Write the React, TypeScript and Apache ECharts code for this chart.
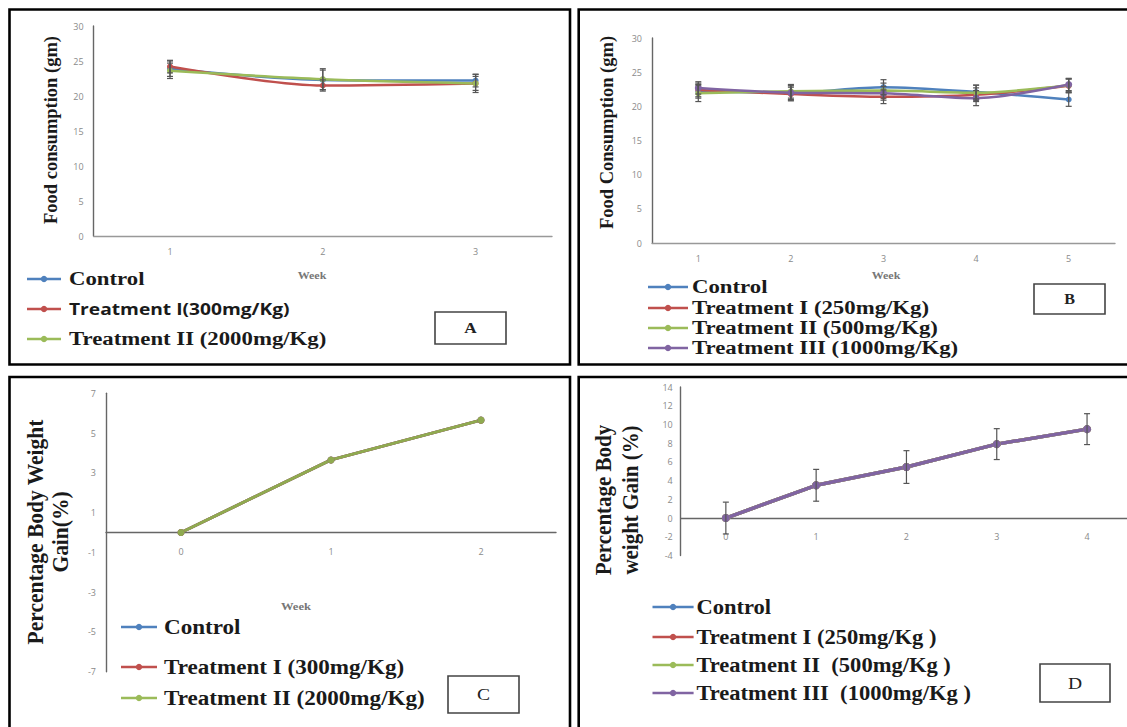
import React, { useEffect, useRef } from "react";
import * as echarts from "echarts";

// ---------- Data ----------
// Panel A: Food consumption (gm), weeks 1-3
const weeksA = ["1", "2", "3"];
const controlA = [23.9, 22.3, 22.2];
const t1A = [24.2, 21.5, 21.8];
const t2A = [23.6, 22.4, 21.8];
const errControlA = [1.1, 1.4, 0.9];
const errT1A = [0.9, 0.8, 1.0];
const errT2A = [1.1, 1.5, 1.3];

// Panel B: Food Consumption (gm), weeks 1-5
const weeksB = ["1", "2", "3", "4", "5"];
const controlB = [22.2, 22.0, 22.8, 22.1, 21.0];
const t1B = [22.4, 21.8, 21.4, 21.7, 23.0];
const t2B = [21.9, 22.2, 22.3, 22.0, 23.1];
const t3B = [22.7, 22.0, 21.9, 21.2, 23.2];
const errControlB = [1.0, 1.1, 1.1, 1.0, 1.0];
const errT1B = [1.0, 1.0, 1.0, 1.0, 1.0];
const errT2B = [1.2, 1.0, 1.1, 1.1, 0.9];
const errT3B = [0.9, 1.0, 1.0, 1.1, 0.9];

// Panel C: Percentage body weight gain (%), weeks 0-2
const weeksC = ["0", "1", "2"];
const controlC = [0, 3.65, 5.65];
const t1C = [0, 3.65, 5.65];
const t2C = [0, 3.65, 5.65];

// Panel D: Percentage body weight gain (%), weeks 0-4
const weeksD = ["0", "1", "2", "3", "4"];
const controlD = [0, 3.5, 5.45, 7.9, 9.5];
const t1D = [0, 3.5, 5.45, 7.9, 9.5];
const t2D = [0, 3.5, 5.45, 7.9, 9.5];
const t3D = [0, 3.5, 5.45, 7.9, 9.5];
const errD = [1.7, 1.7, 1.75, 1.65, 1.65];

// Legend labels
const legendA = ["Control", "Treatment I(300mg/Kg)", "Treatment II (2000mg/Kg)"];
const legendB = ["Control", "Treatment I (250mg/Kg)", "Treatment II (500mg/Kg)", "Treatment III (1000mg/Kg)"];
const legendC = ["Control", "Treatment I (300mg/Kg)", "Treatment II (2000mg/Kg)"];
const legendD = ["Control", "Treatment I (250mg/Kg )", "Treatment II  (500mg/Kg )", "Treatment III  (1000mg/Kg )"];

// ---------- Styling ----------
const C_BLUE = "#4F81BD";
const C_RED = "#C0504D";
const C_GREEN = "#9BBB59";
const C_PURPLE = "#8064A2";
const SERIF = "'Liberation Serif', 'Times New Roman', serif";
const SANS = "'Open Sans', 'Liberation Sans', sans-serif";
const TICK = { color: "#8a8a8a", fontSize: 9, fontFamily: SANS };

function errorSeries(values: number[], errs: number[], idx: number, cap: number) {
  return {
    type: "custom",
    xAxisIndex: idx,
    yAxisIndex: idx,
    z: 5,
    silent: true,
    encode: { x: 0, y: 1 },
    data: values.map((v, i) => [i, v, errs[i]]),
    renderItem: (params: any, api: any) => {
      const x = api.value(0);
      const v = api.value(1);
      const e = api.value(2);
      const hi = api.coord([x, v + e]);
      const lo = api.coord([x, v - e]);
      const st = { stroke: "#555", lineWidth: 1.2 };
      return {
        type: "group",
        children: [
          { type: "line", shape: { x1: hi[0], y1: hi[1], x2: lo[0], y2: lo[1] }, style: st },
          { type: "line", shape: { x1: hi[0] - cap, y1: hi[1], x2: hi[0] + cap, y2: hi[1] }, style: st },
          { type: "line", shape: { x1: lo[0] - cap, y1: lo[1], x2: lo[0] + cap, y2: lo[1] }, style: st },
        ],
      };
    },
  };
}

function lineSeries(name: string, data: number[], idx: number, color: string, width: number, size: number, smooth: number | boolean) {
  return {
    type: "line",
    name,
    xAxisIndex: idx,
    yAxisIndex: idx,
    data,
    smooth,
    symbol: "circle",
    symbolSize: size,
    itemStyle: { color },
    lineStyle: { color, width },
    z: 3,
  };
}

function legendRow(x1: number, x2: number, tx: number, y: number, color: string, text: string, fontFamily: string, fontSize: number, scaleX: number) {
  return [
    { type: "line", shape: { x1, y1: y, x2, y2: y }, style: { stroke: color, lineWidth: 2.5 } },
    { type: "circle", shape: { cx: (x1 + x2) / 2, cy: y, r: 3.2 }, style: { fill: color } },
    {
      type: "text",
      x: tx,
      y,
      scaleX,
      style: { text, fontFamily, fontSize, fontWeight: "bold", fill: "#1a1a1a", align: "left", verticalAlign: "middle" },
    },
  ];
}

function vTitle(text: string, cx: number, cy: number, fontSize: number) {
  return {
    type: "text",
    x: cx,
    y: cy,
    rotation: Math.PI / 2,
    scaleY: 1.05,
    style: { text, fontFamily: SERIF, fontSize, fontWeight: "bold", fill: "#1a1a1a", align: "center", verticalAlign: "middle" },
  };
}

function weekLabel(cx: number, cy: number, fontSize: number) {
  return {
    type: "text",
    x: cx,
    y: cy,
    scaleX: 1.2,
    style: { text: "Week", fontFamily: SERIF, fontSize, fontWeight: "bold", fill: "#777", align: "center", verticalAlign: "middle" },
  };
}

function letterBox(x: number, y: number, w: number, h: number, letter: string, bold: boolean, fontSize: number) {
  return [
    { type: "rect", shape: { x, y, width: w, height: h }, style: { fill: "#fff", stroke: "#444", lineWidth: 1.6 } },
    {
      type: "text",
      x: x + w / 2,
      y: y + h / 2,
      scaleX: 1.15,
      style: { text: letter, fontFamily: SERIF, fontSize, fontWeight: bold ? "bold" : "normal", fill: "#222", align: "center", verticalAlign: "middle" },
    },
  ];
}

function panelBorder(x: number, y: number, w: number, h: number) {
  return { type: "rect", shape: { x, y, width: w, height: h }, style: { fill: "none", stroke: "#000", lineWidth: 2.6 } };
}

function xAxisCfg(idx: number, data: string[], lineColor: string, margin: number) {
  return {
    type: "category",
    gridIndex: idx,
    data,
    boundaryGap: true,
    axisLine: { show: true, onZero: true, lineStyle: { color: lineColor, width: 1.4 } },
    axisTick: { show: false },
    axisLabel: { ...TICK, margin },
    splitLine: { show: false },
  };
}

function yAxisCfg(idx: number, min: number, max: number, interval: number, margin: number, formatter?: (v: number) => string) {
  return {
    type: "value",
    gridIndex: idx,
    min,
    max,
    interval,
    axisLine: { show: true, lineStyle: { color: "#666", width: 1.4 } },
    axisTick: { show: false },
    axisLabel: formatter ? { ...TICK, margin, formatter } : { ...TICK, margin },
    splitLine: { show: false },
  };
}

const option: any = {
  animation: false,
  backgroundColor: "#fff",
  grid: [
    { left: 93.6, top: 26, width: 458.4, height: 210, outerBoundsMode: "none" },
    { left: 652, top: 38, width: 463, height: 205, outerBoundsMode: "none" },
    { left: 106, top: 393.3, width: 450, height: 278.4, outerBoundsMode: "none" },
    { left: 680.7, top: 387, width: 451.5, height: 168.5, outerBoundsMode: "none" },
  ],
  xAxis: [
    xAxisCfg(0, weeksA, "#999", 11),
    xAxisCfg(1, weeksB, "#999", 11),
    xAxisCfg(2, weeksC, "#666", -125),
    xAxisCfg(3, weeksD, "#666", -24),
  ],
  yAxis: [
    yAxisCfg(0, 0, 30, 5, 10),
    yAxisCfg(1, 0, 30, 5, 10),
    yAxisCfg(2, -7, 7, 1, 10, (v: number) => (Math.abs(Math.round(v)) % 2 === 1 ? String(Math.round(v)) : "")),
    yAxisCfg(3, -4, 14, 2, 8),
  ],
  series: [
    // A
    lineSeries(legendA[0], controlA, 0, C_BLUE, 2.5, 6, 0.3),
    lineSeries(legendA[1], t1A, 0, C_RED, 2.5, 6, 0.3),
    lineSeries(legendA[2], t2A, 0, C_GREEN, 2.5, 6, 0.3),
    errorSeries(controlA, errControlA, 0, 3),
    errorSeries(t1A, errT1A, 0, 3),
    errorSeries(t2A, errT2A, 0, 3),
    // B
    lineSeries(legendB[0], controlB, 1, C_BLUE, 2.5, 6, 0.3),
    lineSeries(legendB[1], t1B, 1, C_RED, 2.5, 6, 0.3),
    lineSeries(legendB[2], t2B, 1, C_GREEN, 2.5, 6, 0.3),
    lineSeries(legendB[3], t3B, 1, C_PURPLE, 2.5, 7, 0.3),
    errorSeries(controlB, errControlB, 1, 3),
    errorSeries(t1B, errT1B, 1, 3),
    errorSeries(t2B, errT2B, 1, 3),
    errorSeries(t3B, errT3B, 1, 3),
    // C
    lineSeries(legendC[0], controlC, 2, C_BLUE, 3, 7, false),
    lineSeries(legendC[1], t1C, 2, C_RED, 3, 7, false),
    lineSeries(legendC[2], t2C, 2, "#8FAA50", 3, 7, false),
    // D
    lineSeries(legendD[0], controlD, 3, C_BLUE, 3.5, 8, false),
    lineSeries(legendD[1], t1D, 3, C_RED, 3.5, 8, false),
    lineSeries(legendD[2], t2D, 3, C_GREEN, 3.5, 8, false),
    lineSeries(legendD[3], t3D, 3, C_PURPLE, 3.5, 8, false),
    errorSeries(t3D, errD, 3, 3),
  ],
  graphic: [
    // panel borders
    panelBorder(9.5, 9.5, 560.5, 355),
    panelBorder(578.7, 9.5, 560, 355),
    panelBorder(9.5, 377, 560.5, 360),
    panelBorder(578.7, 377, 560, 360),
    // axis titles
    vTitle("Food consumption (gm)", 50, 130, 18.5),
    vTitle("Food Consumption (gm)", 606, 132.5, 18.5),
    vTitle("Percentage Body Weight", 35, 532, 21.5),
    vTitle("Gain(%)", 60, 532, 21.5),
    vTitle("Percentage Body", 604, 500, 21),
    vTitle("weight Gain (%)", 631, 500, 21),
    weekLabel(312, 275, 10),
    weekLabel(886, 275, 10),
    weekLabel(296, 607, 10.5),
    // legends A
    ...legendRow(27, 61, 69, 279, C_BLUE, legendA[0], SERIF, 19, 1.2),
    ...legendRow(27, 61, 69, 309, C_RED, legendA[1], SANS, 16, 1.2),
    ...legendRow(27, 61, 69, 339, C_GREEN, legendA[2], SERIF, 19, 1.2),
    // legends B
    ...legendRow(648, 688, 692, 287, C_BLUE, legendB[0], SERIF, 19, 1.2),
    ...legendRow(648, 688, 692, 308, C_RED, legendB[1], SERIF, 19, 1.2),
    ...legendRow(648, 688, 692, 328, C_GREEN, legendB[2], SERIF, 19, 1.2),
    ...legendRow(648, 688, 692, 348, C_PURPLE, legendB[3], SERIF, 19, 1.2),
    // legends C
    ...legendRow(121, 157, 164, 627, C_BLUE, legendC[0], SERIF, 21, 1.1),
    ...legendRow(121, 157, 164, 667, C_RED, legendC[1], SERIF, 21, 1.1),
    ...legendRow(121, 157, 164, 698, C_GREEN, legendC[2], SERIF, 21, 1.1),
    // legends D
    ...legendRow(652.5, 693.6, 696.4, 607, C_BLUE, legendD[0], SERIF, 20.5, 1.1),
    ...legendRow(652.5, 693.6, 696.4, 637, C_RED, legendD[1], SERIF, 20.5, 1.1),
    ...legendRow(652.5, 693.6, 696.4, 665, C_GREEN, legendD[2], SERIF, 20.5, 1.1),
    ...legendRow(652.5, 693.6, 696.4, 693, C_PURPLE, legendD[3], SERIF, 20.5, 1.1),
    // letter boxes
    ...letterBox(435, 312, 71, 32, "A", true, 15),
    ...letterBox(1034, 284, 71, 30, "B", true, 14),
    ...letterBox(448, 676, 71, 37, "C", false, 17),
    ...letterBox(1040, 664, 70, 38, "D", false, 17),
  ],
};

export default function App() {
  const ref = useRef<HTMLDivElement>(null);
  useEffect(() => {
    if (!ref.current) return;
    const chart = echarts.init(ref.current, null, { renderer: "svg" });
    chart.setOption(option);
    return () => chart.dispose();
  }, []);
  return (
    <div
      ref={ref}
      style={{ position: "absolute", left: 0, top: 0, width: 1127, height: 727, background: "#fff", overflow: "hidden" }}
    />
  );
}
